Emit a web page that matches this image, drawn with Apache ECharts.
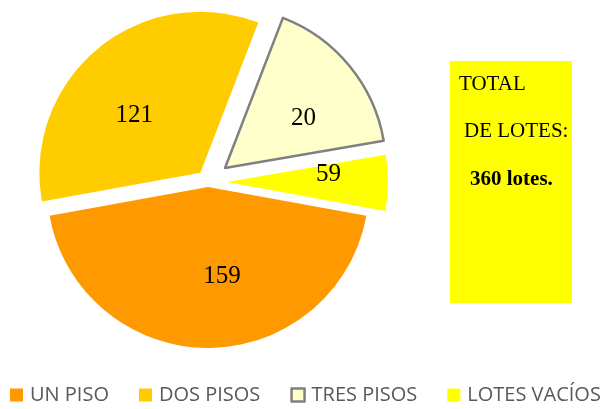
<!DOCTYPE html>
<html>
<head>
<meta charset="utf-8">
<script src="https://cdn.jsdelivr.net/npm/echarts@6/dist/echarts.min.js"></script>
<style>
  html, body { margin: 0; padding: 0; background: #fff; }
  #chart { width: 608px; height: 409px; }
</style>
</head>
<body>
<div id="chart"></div>
<script>
// categories and values as drawn
var categories = ['UN PISO', 'DOS PISOS', 'TRES PISOS', 'LOTES VACÍOS'];
var sliceValues = [159, 121, 59, 20];
// the labels written on the slices
var sliceLabels = ['159', '121', '20', '59'];
var boxLines = ['TOTAL', 'DE LOTES:', '360 lotes.'];

var colors = ['#FF9900', '#FFCC00', '#FFFFCC', '#FFFF00'];
var explode = [5, 12, 22, 19];
var labelNudge = [[14, 6], [-13, 7], [14, 3], [18, -8]];

var cx = 208, cy = 182, R = 161;
var startDeg = 100.3; // clockwise from 12 o'clock

var total = sliceValues.reduce(function (a, b) { return a + b; }, 0);
var series = [];
var acc = 0;
sliceValues.forEach(function (v, i) {
    var mid = (startDeg + (acc + v / 2) / total * 360) * Math.PI / 180;
    acc += v;
    var d = explode[i];
    series.push({
        type: 'pie',
        name: categories[i],
        center: [cx + d * Math.sin(mid), cy - d * Math.cos(mid)],
        radius: [0, R],
        startAngle: 90 - startDeg,
        clockwise: true,
        animation: false,
        silent: true,
        avoidLabelOverlap: false,
        emphasis: { disabled: true },
        labelLine: { show: false },
        label: {
            position: 'inside',
            fontFamily: 'Liberation Serif',
            fontSize: 25,
            color: '#000',
            formatter: function (p) { return sliceLabels[p.dataIndex]; }
        },
        labelLayout: function () {
            return { dx: labelNudge[i][0], dy: labelNudge[i][1] };
        },
        data: categories.map(function (n, j) {
            var own = j === i;
            return {
                name: n,
                value: sliceValues[j],
                itemStyle: own ? {
                    color: colors[j],
                    borderColor: j === 2 ? '#808080' : 'transparent',
                    borderWidth: j === 2 ? 2.5 : 0
                } : { color: 'transparent', borderWidth: 0 },
                label: { show: own }
            };
        })
    });
});

var myChart = echarts.init(document.getElementById('chart'));
var option = {
    backgroundColor: '#fff',
    legend: {
        left: 10,
        top: 385,
        width: 598,
        padding: 0,
        icon: 'rect',
        itemWidth: 13,
        itemHeight: 13,
        itemGap: 30,
        selectedMode: false,
        textStyle: { fontFamily: 'Open Sans', fontSize: 20, color: '#595959', padding: [0, 0, 0, 2] },
        data: categories.map(function (n, j) {
            return {
                name: n,
                itemStyle: j === 2
                    ? { color: colors[j], borderColor: '#808080', borderWidth: 2.5 }
                    : { color: colors[j], borderWidth: 0 }
            };
        })
    },
    graphic: [
        { type: 'rect', shape: { x: 450, y: 61, width: 122, height: 242 }, style: { fill: '#FFFF00' } },
        { type: 'text', x: 459, y: 84, style: { text: boxLines[0], font: '21px "Liberation Serif"', fill: '#000', verticalAlign: 'middle' } },
        { type: 'text', x: 464, y: 131, style: { text: boxLines[1], font: '21px "Liberation Serif"', fill: '#000', verticalAlign: 'middle' } },
        { type: 'text', x: 470, y: 180, style: { text: boxLines[2], font: 'bold 21px "Liberation Serif"', fill: '#000', verticalAlign: 'middle' } }
    ],
    series: series
};
myChart.setOption(option);
window.addEventListener('resize', function () { myChart.resize(); });
</script>
</body>
</html>
